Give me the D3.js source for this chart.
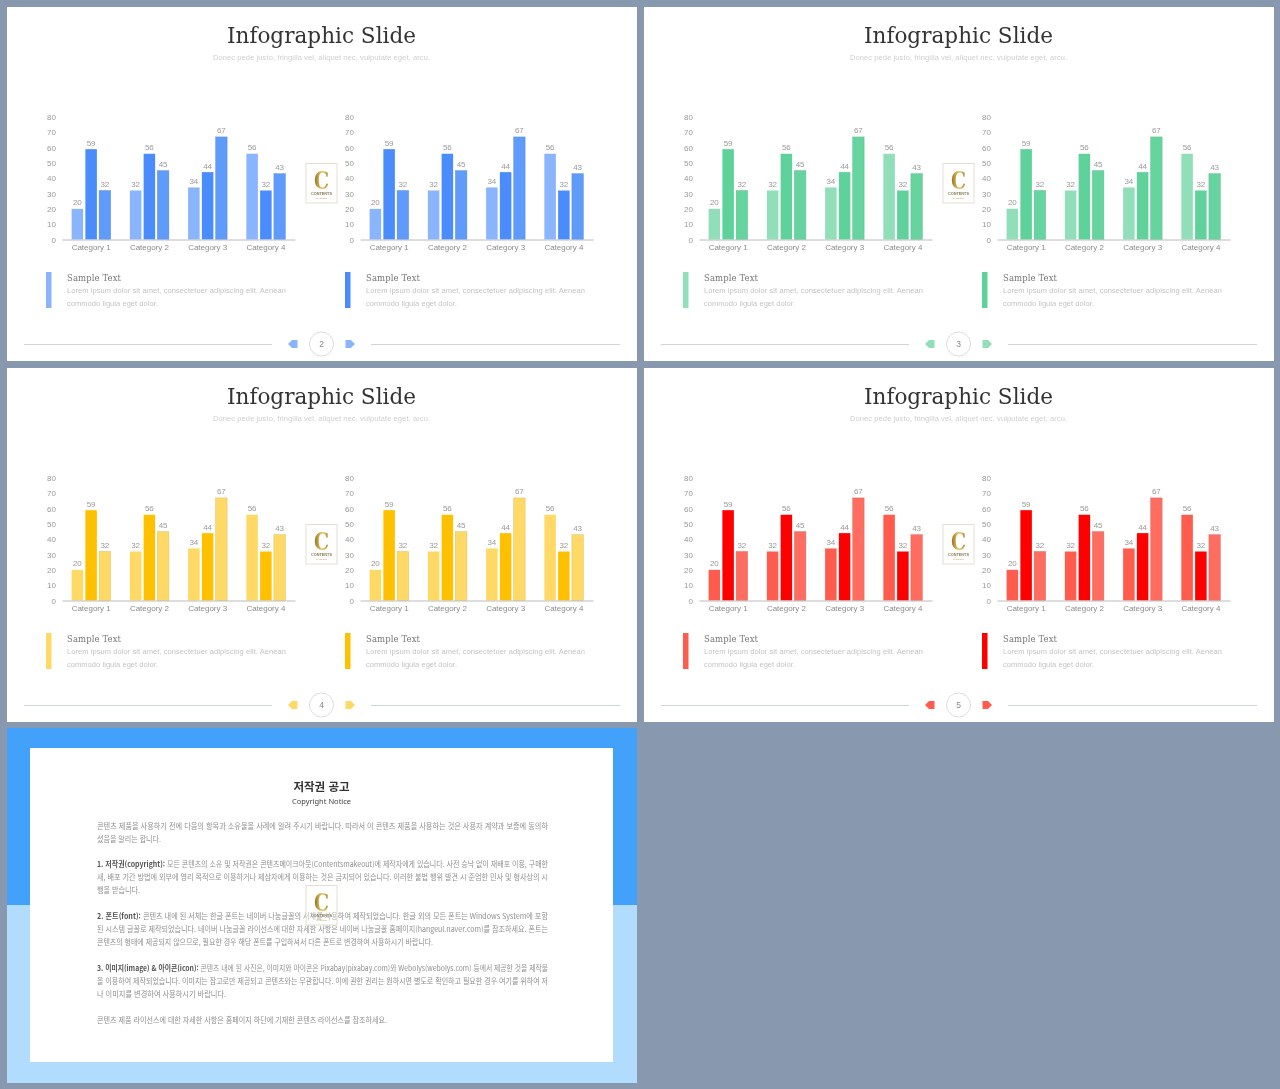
<!DOCTYPE html>
<html lang="ko"><head><meta charset="utf-8">
<script src="https://cdn.jsdelivr.net/npm/d3@7"></script>
<style>
html,body{margin:0;padding:0;background:#8899af;overflow:hidden}
svg{display:block;filter:blur(.35px);will-change:transform}
</style></head><body>
<svg id="c" width="1280" height="1089"></svg>
<script>
const categories = ["Category 1","Category 2","Category 3","Category 4"];
const series1 = [20,32,34,56];
const series2 = [59,56,44,32];
const series3 = [32,45,67,43];
const yTicks = [0,10,20,30,40,50,60,70,80];
const pageNumbers = ["2","3","4","5"];
const palettes = [
  ["#8ab4fb","#4a8cfb","#5f9bfb"],
  ["#90dfb9","#5fd19b","#66d49e"],
  ["#ffd966","#ffc000","#ffd966"],
  ["#ff5c4e","#ff0000","#ff6d60"]
];
const slideTitle = "Infographic Slide";
const slideSubtitle = "Donec pede justo, fringilla vel, aliquet nec, vulputate eget, arcu.";
const sampleTitle = "Sample Text";
const sampleBody = ["Lorem ipsum dolor sit amet, consectetuer adipiscing elit. Aenean","commodo ligula eget dolor."];
const noticeTitle = "저작권 공고";
const noticeSub = "Copyright Notice";
const noticeLines = [
 ["","콘텐츠 제품을 사용하기 전에 다음의 항목과 소유물을 사례에 알려 주시기 바랍니다. 따라서 이 콘텐츠 제품을 사용하는 것은 사용자 계약과 보증에 동의하"],
 ["","셨음을 알리는 합니다."],
 ["1. 저작권(copyright):"," 모든 콘텐츠의 소유 및 저작권은 콘텐츠메이크아웃(Contentsmakeout)에 제작자에게 있습니다. 사전 승낙 없이 재배포 이용, 구매한"],
 ["","새, 배포 기간 방법에 외부에 영리 목적으로 이용하거나 제삼자에게 이용하는 것은 금지되어 있습니다. 이러한 불법 행위 발견 시 준엄한 민사 및 형사상의 시"],
 ["","행을 받습니다."],
 ["2. 폰트(font):"," 콘텐츠 내에 된 서체는 한글 폰트는 네이버 나눔글꼴의 서체를 사용하여 제작되었습니다. 한글 외의 모든 폰트는 Windows System에 포함"],
 ["","된 시스템 글꼴로 제작되었습니다. 네이버 나눔글꼴 라이선스에 대한 자세한 사항은 네이버 나눔글꼴 홈페이지(hangeul.naver.com)를 참조하세요. 폰트는"],
 ["","콘텐츠의 형태에 제공되지 않으므로, 필요한 경우 해당 폰트를 구입하셔서 다른 폰트로 변경하여 사용하시기 바랍니다."],
 ["3. 이미지(image) & 아이콘(icon):"," 콘텐츠 내에 된 사진은, 이미지와 아이콘은 Pixabay(pixabay.com)와 Webolys(webolys.com) 등에서 제공한 것을 제작물"],
 ["","을 이용하여 제작되었습니다. 이미지는 참고로만 제공되고 콘텐츠와는 무관합니다. 이에 관한 권리는 원하시면 별도로 확인하고 필요한 경우 여기를 위하여 저"],
 ["","나 이미지를 변경하여 사용하시기 바랍니다."],
 ["","콘텐츠 제품 라이선스에 대한 자세한 사항은 홈페이지 하단에 기재한 콘텐츠 라이선스를 참조하세요."]
];
const noticeLayout = [[826,548],[839,161],[864,548],[877,548],[890,140],[916,548],[929,548],[942,433],[968,548],[981,548],[994,226],[1020,387]];

const svg = d3.select("#c");
const SANS = "'Liberation Sans',Arial,sans-serif", SERIF = "'DejaVu Serif',serif", KR = "'Noto Sans CJK KR',sans-serif";

const defs = svg.append("defs");
const gold = defs.append("linearGradient").attr("id","gold").attr("x1",0).attr("x2",1).attr("y1",0).attr("y2",0);
[[0,"#8a6a25"],[.35,"#d2ae48"],[.6,"#e6c868"],[1,"#a67f2a"]].forEach(s=>gold.append("stop").attr("offset",s[0]).attr("stop-color",s[1]));
const soft = defs.append("filter").attr("id","soft");
soft.append("feGaussianBlur").attr("stdDeviation",.5);

function fit(g,x,y,str,o){
  const t=g.append("text").attr("x",x).attr("y",y).text(str)
    .attr("font-family",o.family||SANS).attr("font-size",o.size).attr("fill",o.fill);
  if(o.anchor)t.attr("text-anchor",o.anchor);
  if(o.weight)t.attr("font-weight",o.weight);
  if(o.len)t.attr("textLength",o.len).attr("lengthAdjust",o.adjust||"spacing");
  return t;
}

function logo(g,x,y,fillOpacity){
  const l=g.append("g").attr("transform",`translate(${x},${y})`);
  l.append("rect").attr("x",.5).attr("y",.5).attr("width",31).attr("height",39.5).attr("fill","#fff").attr("fill-opacity",fillOpacity).attr("stroke","#e4dfd2");
  fit(l,16,26,"C",{family:SERIF,size:25,weight:700,fill:"url(#gold)",anchor:"middle",len:15,adjust:"spacingAndGlyphs"});
  fit(l,16,32,"CONTENTS",{size:4.4,weight:700,fill:"#8a7a55",anchor:"middle",len:21,adjust:"spacingAndGlyphs"});
  fit(l,16,36,"MAKE OUT",{size:2.5,fill:"#c2a860",anchor:"middle",len:11});
}

function chart(g,x0,colors){
  const x=d3.scaleBand().domain(categories).range([x0,x0+233]).paddingInner(.33).paddingOuter(.165);
  const inner=d3.scaleBand().domain(d3.range(3)).range([0,x.bandwidth()]).paddingInner(.164);
  const y=d3.scaleLinear().domain([0,80]).range([239.5,117]);
  const ya=g.append("g").attr("transform",`translate(${x0},0)`).call(d3.axisLeft(y).tickValues(yTicks).tickSize(0).tickPadding(6));
  ya.select(".domain").remove();
  ya.selectAll("text").attr("font-family",SANS).attr("font-size",8).attr("fill","#999");
  const rows=categories.map((c,i)=>[series1[i],series2[i],series3[i]].map((v,s)=>({c,v,s})));
  const bars=g.append("g").selectAll("g").data(rows).join("g").attr("transform",(d,i)=>`translate(${x(categories[i])},0)`);
  bars.selectAll("rect").data(d=>d).join("rect")
    .attr("x",d=>inner(d.s)).attr("width",inner.bandwidth())
    .attr("y",d=>y(d.v)).attr("height",d=>y(0)-y(d.v)).attr("fill",d=>colors[d.s])
    .attr("stroke",d=>d.s===2?d3.color(colors[d.s]).darker(.6).formatHex():"none")
    .attr("stroke-width",.6).attr("stroke-opacity",.6);
  bars.selectAll("text").data(d=>d).join("text")
    .attr("x",d=>inner(d.s)+inner.bandwidth()/2).attr("y",d=>y(d.v)-3.5).attr("text-anchor","middle")
    .attr("font-family",SANS).attr("font-size",8).attr("fill","#999").text(d=>d.v);
  const xa=g.append("g").attr("transform","translate(0,239.5)").call(d3.axisBottom(x).tickSize(0).tickPadding(5));
  xa.select(".domain").attr("stroke","#bcbcbc");
  xa.selectAll("text").attr("font-family",SANS).attr("font-size",8).attr("fill","#8c8c8c").attr("textLength",39).attr("lengthAdjust","spacing");
}

function legend(g,x,color){
  g.append("rect").attr("x",x).attr("y",272).attr("width",5.5).attr("height",36).attr("fill",color);
  fit(g,x+21,281,sampleTitle,{family:SERIF,size:8.5,fill:"#777",len:54});
  fit(g,x+21,293,sampleBody[0],{size:7.5,fill:"#c4c4c4",len:219});
  fit(g,x+21,306,sampleBody[1],{size:7.5,fill:"#c4c4c4",len:91});
}

function slide(i){
  const colors=palettes[i];
  const g=svg.append("g").attr("transform",`translate(${(i%2)*637},${Math.floor(i/2)*361})`);
  g.append("rect").attr("x",7).attr("y",7).attr("width",630).attr("height",354).attr("fill","#fff");
  fit(g,321.5,43,slideTitle,{family:SERIF,size:23,fill:"#333",anchor:"middle",len:189,adjust:"spacingAndGlyphs"});
  fit(g,321.5,60,slideSubtitle,{size:7.5,fill:"#cfcfcf",anchor:"middle",len:217});
  chart(g,62,colors);
  chart(g,360,colors);
  logo(g,305.5,163,1);
  legend(g,46,colors[0]);
  legend(g,345,colors[1]);
  [[24,272],[371,620]].forEach(s=>g.append("line").attr("x1",s[0]).attr("x2",s[1]).attr("y1",344.5).attr("y2",344.5).attr("stroke","#cdd4de"));
  g.append("circle").attr("cx",321.5).attr("cy",344).attr("r",12).attr("fill","#fff").attr("stroke","#ddd");
  fit(g,321.5,347,pageNumbers[i],{size:8.5,fill:"#888",anchor:"middle"});
  g.append("path").attr("d","M288,344 L292,340 H297.5 V348 H292 Z").attr("fill",colors[0]);
  g.append("path").attr("d","M355,344 L351,340 H345.5 V348 H351 Z").attr("fill",colors[0]);
}
d3.range(4).forEach(slide);

// Copyright notice slide
const n=svg.append("g");
n.append("rect").attr("x",7).attr("y",728).attr("width",630).attr("height",177).attr("fill","#42a1fb");
n.append("rect").attr("x",7).attr("y",905).attr("width",630).attr("height",178).attr("fill","#b2dcfd");
n.append("rect").attr("x",30).attr("y",748).attr("width",583).attr("height",314).attr("fill","#fff");
fit(n,321.5,791,noticeTitle,{family:KR,size:11.5,weight:700,fill:"#333",anchor:"middle"});
fit(n,321.5,804,noticeSub,{family:"'Noto Sans',sans-serif",size:7.5,fill:"#444",anchor:"middle"});
const body=n.append("g").attr("filter","url(#soft)");
noticeLines.forEach((ln,i)=>{
  const [yy,xe]=noticeLayout[i];
  const t=body.append("text").attr("x",97).attr("y",yy+3).attr("font-family",KR).attr("font-size",7.5).attr("fill","#8f8f8f")
    .attr("textLength",xe-97).attr("lengthAdjust","spacingAndGlyphs");
  if(ln[0])t.append("tspan").attr("font-weight",700).attr("fill","#555").text(ln[0]);
  t.append("tspan").text(ln[1]);
});
logo(n,305.5,885,.35);
</script></body></html>
